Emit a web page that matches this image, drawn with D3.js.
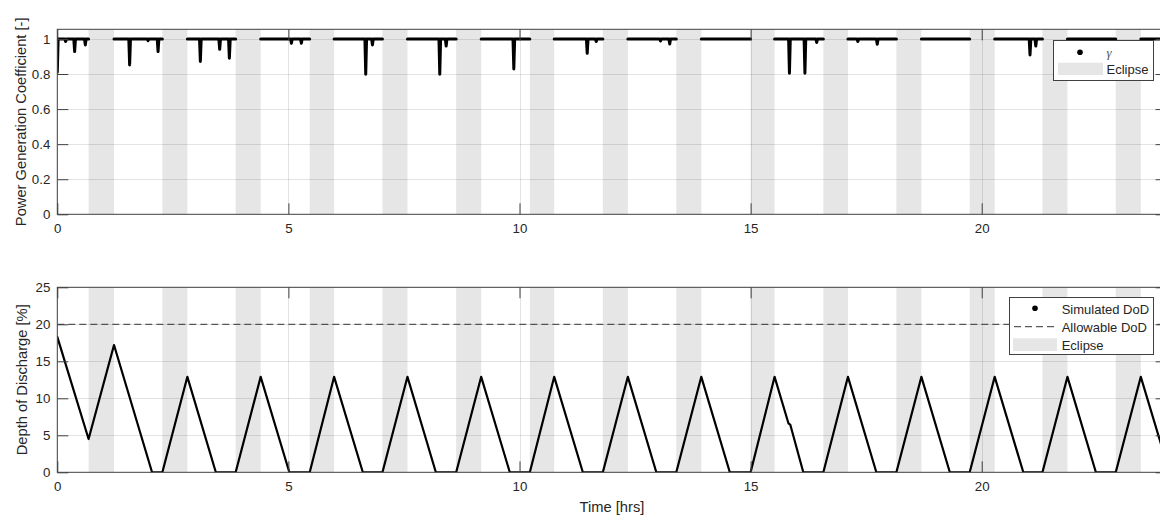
<!DOCTYPE html>
<html><head><meta charset="utf-8">
<script src="https://cdn.jsdelivr.net/npm/d3@7"></script>
<style>
body{margin:0;background:#fff;}
svg{display:block;font-family:"Liberation Sans",Arial,sans-serif;}
</style>
</head><body>
<svg id="c" width="1160" height="516"></svg>
<script>
// ---------------- DATA ----------------
const xTicks = [0, 5, 10, 15, 20];
const gammaTicks = [0, 0.2, 0.4, 0.6, 0.8, 1];
const dodTicks = [0, 5, 10, 15, 20, 25];

// eclipse intervals [hrs]
const eclipseStart = [0.677, 2.273, 3.859, 5.461, 7.035, 8.630, 10.223, 11.803, 13.392, 15.000, 16.574, 18.154, 19.740, 21.314, 22.900];
const eclipseEnd   = [1.227, 2.814, 4.400, 5.989, 7.576, 9.171, 10.751, 12.344, 13.933, 15.519, 17.106, 18.695, 20.281, 21.855, 23.442];

// power generation coefficient: dips (time [hrs], minimum value)
const gammaDipTime = [0.0, 0.18, 0.375, 0.606, 1.565, 1.963, 2.18, 3.095, 3.513, 3.723, 5.065, 5.28, 6.673, 6.818, 8.275, 8.413, 9.877, 11.465, 11.66, 13.05, 13.25, 15.84, 16.175, 16.43, 17.32, 17.74, 21.045, 21.17];
const gammaDipMin  = [0.81, 0.985, 0.928, 0.966, 0.852, 0.99, 0.928, 0.871, 0.941, 0.89, 0.975, 0.975, 0.799, 0.966, 0.799, 0.96, 0.829, 0.918, 0.985, 0.988, 0.971, 0.804, 0.804, 0.98, 0.985, 0.97, 0.909, 0.96];
const gammaNominal = 1;
const timeEnd = 24;

// simulated depth of discharge [%]
const dodTime  = [0, 0.677, 1.227, 2.05, 2.273, 2.814, 3.43, 3.859, 4.400, 5.02, 5.461, 5.989, 6.61, 7.035, 7.576, 8.19, 8.630, 9.171, 9.79, 10.223, 10.751, 11.37, 11.803, 12.344, 12.96, 13.392, 13.933, 14.55, 15.000, 15.519, 15.82, 15.86, 16.14, 16.574, 17.106, 17.72, 18.154, 18.695, 19.31, 19.740, 20.281, 20.90, 21.314, 21.855, 22.47, 22.900, 23.442, 24.0];
const dodValue = [18.3, 4.5, 17.2, 0, 0, 12.9, 0, 0, 12.9, 0, 0, 12.9, 0, 0, 12.9, 0, 0, 12.9, 0, 0, 12.9, 0, 0, 12.9, 0, 0, 12.9, 0, 0, 12.9, 6.6, 6.4, 0, 0, 12.9, 0, 0, 12.9, 0, 0, 12.9, 0, 0, 12.9, 0, 0, 12.9, 1.3];
const allowableDoD = 20;

// ---------------- DRAWING ----------------
const svg = d3.select("#c");
const X0 = 57.3, X1 = 1166.6;
const x = d3.scaleLinear().domain([0, 24]).range([X0, X1]);
const AX = "#404040", TXT = "#262626";
const fmt = d3.format("~g");

function panel(id, top, bottom, yDomain, yTicks) {
  const y = d3.scaleLinear().domain(yDomain).range([bottom, top]);
  const g = svg.append("g");
  g.append("clipPath").attr("id", "clip" + id).append("rect")
    .attr("x", X0).attr("y", top).attr("width", X1 - X0).attr("height", bottom - top);
  const inner = g.append("g").attr("clip-path", `url(#clip${id})`);
  // eclipse bands
  inner.selectAll("rect.ecl").data(eclipseStart).join("rect")
    .attr("x", (d) => x(d)).attr("width", (d, i) => x(eclipseEnd[i]) - x(d))
    .attr("y", top).attr("height", bottom - top).attr("fill", "#e6e6e6");
  // grid
  inner.selectAll("line.gx").data(xTicks).join("line")
    .attr("x1", d => Math.round(x(d)) + 0.5).attr("x2", d => Math.round(x(d)) + 0.5)
    .attr("y1", top).attr("y2", bottom)
    .attr("stroke", "#262626").attr("stroke-opacity", 0.13);
  inner.selectAll("line.gy").data(yTicks).join("line")
    .attr("y1", d => Math.round(y(d)) + 0.5).attr("y2", d => Math.round(y(d)) + 0.5)
    .attr("x1", X0).attr("x2", X1)
    .attr("stroke", "#262626").attr("stroke-opacity", 0.13);
  // axes
  const ab = g.append("g").attr("transform", `translate(0,${bottom})`)
    .call(d3.axisBottom(x).tickValues(xTicks).tickSize(-11).tickPadding(9.5).tickFormat(fmt));
  const at = g.append("g").attr("transform", `translate(0,${top})`)
    .call(d3.axisTop(x).tickValues(xTicks).tickSize(-11).tickFormat(""));
  const al = g.append("g").attr("transform", `translate(${X0},0)`)
    .call(d3.axisLeft(y).tickValues(yTicks).tickSize(-11).tickPadding(7).tickFormat(fmt));
  const ar = g.append("g").attr("transform", `translate(${X1},0)`)
    .call(d3.axisRight(y).tickValues(yTicks).tickSize(-11).tickFormat(""));
  [ab, at, al, ar].forEach(a => {
    a.select(".domain").remove();
    a.selectAll("line").attr("stroke", AX);
    a.selectAll("text").attr("fill", TXT).style("font-size", "13.3px")
      .style("font-family", '"Liberation Sans", Arial, sans-serif');
  });
  g.append("rect").attr("x", X0).attr("y", top).attr("width", X1 - X0).attr("height", bottom - top)
    .attr("fill", "none").attr("stroke", AX).attr("stroke-width", 1);
  return { g, inner, y };
}

// ---- top panel: power generation coefficient ----
const P1 = panel(1, 29.3, 214.3, [0, 1.055], gammaTicks);
{
  const sunStart = [0].concat(eclipseEnd);
  const sunEnd = eclipseStart.concat([timeEnd]);
  const half = 0.018;
  sunStart.forEach((s, k) => {
    const e = sunEnd[k];
    const pts = [];
    const dips = gammaDipTime.map((t, i) => [t, gammaDipMin[i]]).filter(d => d[0] >= s && d[0] < e);
    if (dips.length && dips[0][0] <= s + 0.001) {
      pts.push([s, dips[0][1]]);
      pts.push([s + half, gammaNominal]);
      dips.shift();
    } else pts.push([s, gammaNominal]);
    dips.forEach(d => {
      pts.push([d[0] - half, gammaNominal]);
      pts.push([d[0], d[1]]);
      pts.push([d[0] + half, gammaNominal]);
    });
    pts.push([e, gammaNominal]);
    P1.inner.append("path").datum(pts)
      .attr("d", d3.line().x(d => x(d[0])).y(d => P1.y(d[1])))
      .attr("fill", "none").attr("stroke", "#000").attr("stroke-width", 3)
      .attr("stroke-linejoin", "round").attr("stroke-linecap", "round");
  });
}

// ---- bottom panel: depth of discharge ----
const P2 = panel(2, 287.3, 472.3, [0, 25], dodTicks);
P2.inner.append("line").attr("x1", X0).attr("x2", X1)
  .attr("y1", P2.y(allowableDoD)).attr("y2", P2.y(allowableDoD))
  .attr("stroke", "#333").attr("stroke-width", 1).attr("stroke-dasharray", "7,4");
P2.inner.append("path").datum(dodTime.map((t, i) => [t, dodValue[i]]))
  .attr("d", d3.line().x(d => x(d[0])).y(d => P2.y(d[1])))
  .attr("fill", "none").attr("stroke", "#000").attr("stroke-width", 2.2)
  .attr("stroke-linejoin", "round").attr("stroke-linecap", "round");

// ---- labels ----
svg.append("text").attr("transform", `translate(26,${(29.3 + 214.3) / 2}) rotate(-90)`)
  .attr("text-anchor", "middle").attr("fill", TXT).style("font-size", "14.7px")
  .text("Power Generation Coefficient [-]");
svg.append("text").attr("transform", `translate(26.5,${(287.3 + 472.3) / 2}) rotate(-90)`)
  .attr("text-anchor", "middle").attr("fill", TXT).style("font-size", "14.7px")
  .text("Depth of Discharge [%]");
svg.append("text").attr("x", (X0 + X1) / 2).attr("y", 512)
  .attr("text-anchor", "middle").attr("fill", TXT).style("font-size", "14.7px")
  .text("Time [hrs]");

// ---- legends ----
{
  const L = svg.append("g");
  L.append("rect").attr("x", 1053.5).attr("y", 40.5).attr("width", 100).attr("height", 40)
    .attr("fill", "#fff").attr("stroke", AX).attr("stroke-width", 1);
  L.append("circle").attr("cx", 1080).attr("cy", 52.3).attr("r", 2.8).attr("fill", "#000");
  L.append("text").attr("x", 1106.5).attr("y", 57).attr("fill", "#555")
    .style("font-family", '"Liberation Serif", "DejaVu Serif", serif').style("font-style", "italic")
    .style("font-size", "13px").text("γ");
  L.append("rect").attr("x", 1058).attr("y", 62.7).attr("width", 45).attr("height", 12.3).attr("fill", "#e6e6e6");
  L.append("text").attr("x", 1106.5).attr("y", 74.3).attr("fill", TXT).style("font-size", "13px").text("Eclipse");
}
{
  const L = svg.append("g");
  L.append("rect").attr("x", 1009.5).attr("y", 297.5).attr("width", 144).attr("height", 57)
    .attr("fill", "#fff").attr("stroke", AX).attr("stroke-width", 1);
  L.append("circle").attr("cx", 1035).attr("cy", 308.3).attr("r", 2.8).attr("fill", "#000");
  L.append("text").attr("x", 1061.7).attr("y", 313.5).attr("fill", TXT).style("font-size", "13px").text("Simulated DoD");
  L.append("line").attr("x1", 1014).attr("x2", 1057).attr("y1", 326.7).attr("y2", 326.7)
    .attr("stroke", "#333").attr("stroke-width", 1).attr("stroke-dasharray", "7,4");
  L.append("text").attr("x", 1061.7).attr("y", 331.8).attr("fill", TXT).style("font-size", "13px").text("Allowable DoD");
  L.append("rect").attr("x", 1013).attr("y", 338.3).attr("width", 44).attr("height", 12.7).attr("fill", "#e6e6e6");
  L.append("text").attr("x", 1061.7).attr("y", 349.5).attr("fill", TXT).style("font-size", "13px").text("Eclipse");
}
</script>
</body></html>
